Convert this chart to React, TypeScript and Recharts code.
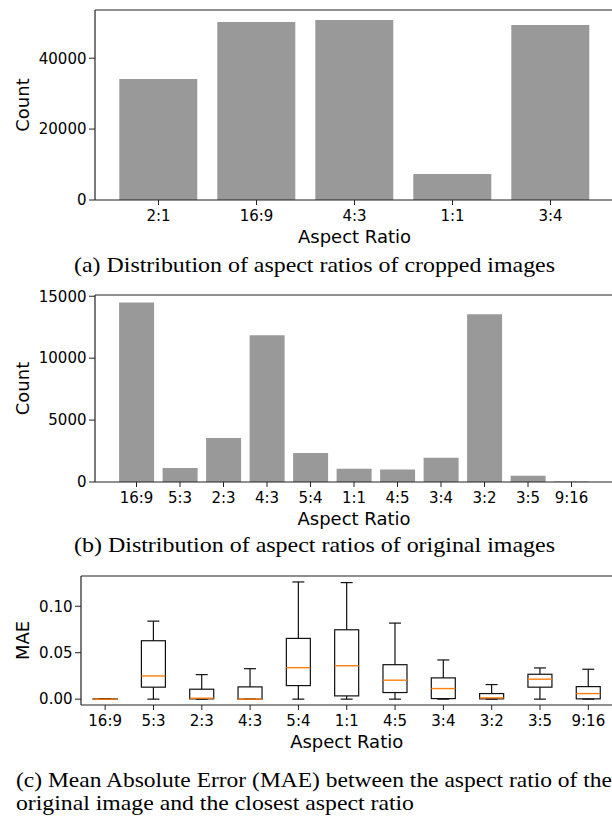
import React from 'react';
import { BarChart, Bar, XAxis, YAxis, ReferenceLine, Label } from 'recharts';

// ---------- data ----------
const croppedCategories = ['2:1', '16:9', '4:3', '1:1', '3:4'];
const croppedCounts = [34100, 50200, 50800, 7300, 49400];
const croppedTicks = [0, 20000, 40000];

const originalCategories = ['16:9', '5:3', '2:3', '4:3', '5:4', '1:1', '4:5', '3:4', '3:2', '3:5', '9:16'];
const originalCounts = [14500, 1130, 3550, 11850, 2350, 1080, 1000, 1950, 13550, 500, 40];
const originalTicks = [0, 5000, 10000, 15000];

const maeCategories = ['16:9', '5:3', '2:3', '4:3', '5:4', '1:1', '4:5', '3:4', '3:2', '3:5', '9:16'];
const maeMin = [0, 0, 0, 0, 0, 0, 0, 0, 0, 0, 0];
const maeQ1 = [0, 0.0129, 0.0003, 0, 0.0146, 0.0035, 0.0071, 0.0006, 0.0003, 0.0129, 0.0003];
const maeMedian = [0, 0.025, 0.001, 0, 0.0339, 0.036, 0.0204, 0.0114, 0.0014, 0.0215, 0.006];
const maeQ3 = [0.0003, 0.0629, 0.0107, 0.0132, 0.0654, 0.0747, 0.0371, 0.0229, 0.006, 0.0268, 0.0135];
const maeMax = [0.0005, 0.084, 0.0264, 0.0328, 0.1262, 0.1255, 0.0819, 0.0422, 0.0157, 0.0336, 0.0322];
const maeTicks = [0, 0.05, 0.1];

// ---------- tables ----------
const croppedData = croppedCategories.map((c, i) => ({ name: c, count: croppedCounts[i] }));
const originalData = originalCategories.map((c, i) => ({ name: c, count: originalCounts[i] }));
const maeData = maeCategories.map((c, i) => ({
  name: c,
  min: maeMin[i],
  q1: maeQ1[i],
  median: maeMedian[i],
  q3: maeQ3[i],
  max: maeMax[i],
  range: [maeMin[i], maeMax[i]],
}));

// ---------- styles ----------
const SANS = 'DejaVu Sans';
const SERIF = "'Liberation Serif', 'Times New Roman', Times, serif";
const AXIS = '#222';
const BAR = '#999999';
const tickStyle = { fill: '#000', fontSize: 15, fontFamily: SANS };

const yTitle = (text: string, cy: number) => () => (
  <text
    x={28.5}
    y={cy}
    transform={`rotate(-90 28.5 ${cy})`}
    textAnchor="middle"
    fontFamily={SANS}
    fontSize={18}
    fill="#000"
  >
    {text}
  </text>
);

const xTitle = (text: string, cx: number, y: number) => () => (
  <text x={cx} y={y} textAnchor="middle" fontFamily={SANS} fontSize={18} fill="#000">
    {text}
  </text>
);

const BoxShape = (props: any) => {
  const { x, y, width, height, payload } = props;
  const { min, q1, median, q3, max } = payload;
  const span = max - min;
  const py = (v: number) => (span > 0 ? y + (height * (max - v)) / span : y);
  const cx = x + width / 2;
  const cap = width / 4;
  const stroke = '#111';
  const sw = 1.2;
  return (
    <g>
      <line x1={cx} x2={cx} y1={py(max)} y2={py(q3)} stroke={stroke} strokeWidth={sw} />
      <line x1={cx} x2={cx} y1={py(q1)} y2={py(min)} stroke={stroke} strokeWidth={sw} />
      <line x1={cx - cap} x2={cx + cap} y1={py(max)} y2={py(max)} stroke={stroke} strokeWidth={sw} />
      <line x1={cx - cap} x2={cx + cap} y1={py(min)} y2={py(min)} stroke={stroke} strokeWidth={sw} />
      <rect
        x={x}
        y={py(q3)}
        width={width}
        height={Math.max(0, py(q1) - py(q3))}
        fill="none"
        stroke={stroke}
        strokeWidth={sw}
      />
      <line x1={x} x2={x + width} y1={py(median)} y2={py(median)} stroke="#ff7f0e" strokeWidth={1.4} />
    </g>
  );
};

const captionStyle: React.CSSProperties = { fontFamily: SERIF, fontSize: 21.5 };

export default function App() {
  const A_TOP = 53600;
  const B_TOP = 15100;
  const C_DOMAIN: [number, number] = [-0.0063, 0.1326];

  return (
    <div
      style={{
        position: 'absolute',
        left: 0,
        top: 0,
        width: 612,
        height: 819,
        overflow: 'hidden',
        background: '#fff',
      }}
    >
      {/* (a) */}
      <div style={{ position: 'absolute', left: 0, top: 0 }}>
        <BarChart width={620} height={250} data={croppedData} margin={{ top: 10, right: 6, bottom: 0, left: 0 }}>
          <XAxis
            dataKey="name"
            height={50}
            interval={0}
            padding={{ left: 14.5, right: 14.5 }}
            tick={tickStyle}
            tickSize={5}
            tickMargin={5}
            axisLine={{ stroke: AXIS, strokeWidth: 1.2 }}
            tickLine={{ stroke: AXIS }}
          >
            <Label content={xTitle('Aspect Ratio', 354.5, 243)} />
          </XAxis>
          <YAxis
            width={95}
            domain={[0, A_TOP]}
            ticks={croppedTicks}
            interval={0}
            tick={tickStyle}
            tickSize={6}
            tickMargin={2.5}
            axisLine={{ stroke: AXIS, strokeWidth: 1.2 }}
            tickLine={{ stroke: AXIS }}
          >
            <Label content={yTitle('Count', 105)} />
          </YAxis>
          <ReferenceLine y={A_TOP} stroke={AXIS} strokeWidth={1.2} />
          <Bar dataKey="count" fill={BAR} isAnimationActive={false} />
        </BarChart>
      </div>

      {/* (b) */}
      <div style={{ position: 'absolute', left: 0, top: 285 }}>
        <BarChart width={620} height={247} data={originalData} margin={{ top: 10, right: 7, bottom: 0, left: 0 }}>
          <XAxis
            dataKey="name"
            height={50}
            interval={0}
            padding={{ left: 19.75, right: 19.75 }}
            tick={tickStyle}
            tickSize={5}
            tickMargin={5}
            axisLine={{ stroke: AXIS, strokeWidth: 1.2 }}
            tickLine={{ stroke: AXIS }}
          >
            <Label content={xTitle('Aspect Ratio', 354, 240)} />
          </XAxis>
          <YAxis
            width={95}
            domain={[0, B_TOP]}
            ticks={originalTicks}
            interval={0}
            tick={tickStyle}
            tickSize={6}
            tickMargin={2.5}
            axisLine={{ stroke: AXIS, strokeWidth: 1.2 }}
            tickLine={{ stroke: AXIS }}
          >
            <Label content={yTitle('Count', 103.5)} />
          </YAxis>
          <ReferenceLine y={B_TOP} stroke={AXIS} strokeWidth={1.2} />
          <Bar dataKey="count" fill={BAR} isAnimationActive={false} />
        </BarChart>
      </div>

      {/* (c) */}
      <div style={{ position: 'absolute', left: 0, top: 565 }}>
        <BarChart
          width={620}
          height={190}
          data={maeData}
          barCategoryGap="25%"
          margin={{ top: 11, right: 7.5, bottom: 0, left: 0 }}
        >
          <XAxis
            dataKey="name"
            height={50}
            interval={0}
            tick={tickStyle}
            tickSize={5}
            tickMargin={5}
            axisLine={{ stroke: AXIS, strokeWidth: 1.2 }}
            tickLine={{ stroke: AXIS }}
          >
            <Label content={xTitle('Aspect Ratio', 346.7, 183)} />
          </XAxis>
          <YAxis
            width={81}
            type="number"
            domain={C_DOMAIN}
            ticks={maeTicks}
            interval={0}
            allowDataOverflow
            tickFormatter={(v: number) => v.toFixed(2)}
            tick={tickStyle}
            tickSize={6}
            tickMargin={2.5}
            axisLine={{ stroke: AXIS, strokeWidth: 1.2 }}
            tickLine={{ stroke: AXIS }}
          >
            <Label content={yTitle('MAE', 75.5)} />
          </YAxis>
          <ReferenceLine y={C_DOMAIN[1]} stroke={AXIS} strokeWidth={1.2} />
          <Bar dataKey="range" shape={BoxShape} isAnimationActive={false} />
        </BarChart>
      </div>

      {/* captions */}
      <svg
        width={612}
        height={819}
        style={{ position: 'absolute', left: 0, top: 0, pointerEvents: 'none' }}
      >
        <text x={74} y={272} style={captionStyle} fill="#000" textLength={481} lengthAdjust="spacingAndGlyphs">
          (a) Distribution of aspect ratios of cropped images
        </text>
        <text x={74} y={552} style={captionStyle} fill="#000" textLength={481} lengthAdjust="spacingAndGlyphs">
          (b) Distribution of aspect ratios of original images
        </text>
        <text x={16} y={787} style={captionStyle} fill="#000" textLength={596} lengthAdjust="spacingAndGlyphs">
          (c) Mean Absolute Error (MAE) between the aspect ratio of the
        </text>
        <text x={16} y={810} style={captionStyle} fill="#000" textLength={398} lengthAdjust="spacingAndGlyphs">
          original image and the closest aspect ratio
        </text>
      </svg>
    </div>
  );
}
